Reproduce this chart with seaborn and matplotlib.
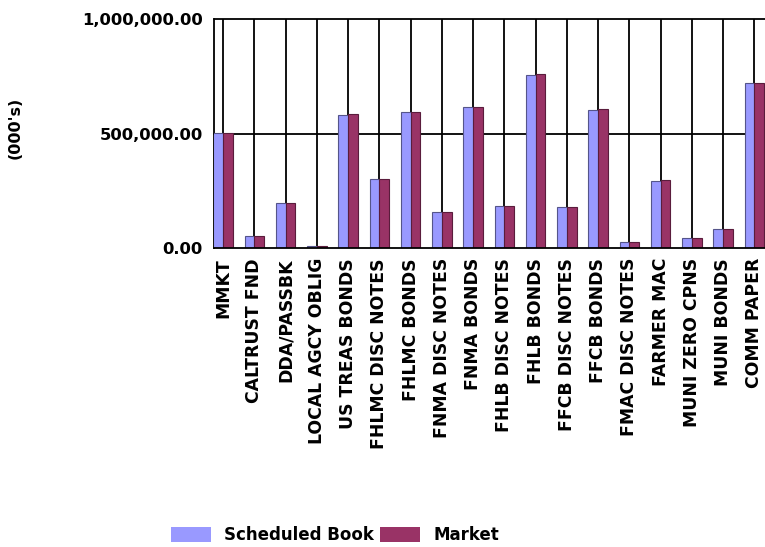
import matplotlib
matplotlib.use("Agg")
import matplotlib.pyplot as plt
import seaborn as sns
import pandas as pd
from matplotlib.patches import Patch

categories = [
    "MMKT", "CALTRUST FND", "DDA/PASSBK", "LOCAL AGCY OBLIG", "US TREAS BONDS",
    "FHLMC DISC NOTES", "FHLMC BONDS", "FNMA DISC NOTES", "FNMA BONDS",
    "FHLB DISC NOTES", "FHLB BONDS", "FFCB DISC NOTES", "FFCB BONDS",
    "FMAC DISC NOTES", "FARMER MAC", "MUNI ZERO CPNS", "MUNI BONDS", "COMM PAPER",
]
scheduled_book = [505000, 54000, 197000, 11000, 584000, 302000, 594000, 158000, 616000,
                  184000, 759000, 182000, 606000, 26000, 296000, 44000, 83000, 723000]
market = [506000, 54000, 197000, 11000, 585000, 302000, 595000, 158000, 617000,
          184000, 760000, 182000, 607000, 26000, 297000, 44000, 83000, 724000]
series_names = ["Scheduled Book", "Market"]
y_ticks = [0, 500000, 1000000]
y_tick_labels = ["0.00", "500,000.00", "1,000,000.00"]

df = pd.DataFrame({
    "category": categories * 2,
    "value": scheduled_book + market,
    "series": [series_names[0]] * len(categories) + [series_names[1]] * len(categories),
})

colors = {"Scheduled Book": "#9999ff", "Market": "#993366"}
edges = {"Scheduled Book": "#55558a", "Market": "#5a1c3c"}

sns.set_style("white")
plt.rcParams["font.family"] = ["DejaVu Sans"]
plt.rcParams["text.color"] = "black"
plt.rcParams["xtick.color"] = "black"
plt.rcParams["ytick.color"] = "black"

fig = plt.figure(figsize=(7.65, 5.47), dpi=100)
W, H = 765, 547
ax_left, ax_right = 214, 770
ax_top, ax_bottom = 19.5, 248.3
ax = fig.add_axes([ax_left / W, 1 - ax_bottom / H, (ax_right - ax_left) / W, (ax_bottom - ax_top) / H])

sns.barplot(data=df, x="category", y="value", hue="series", order=categories,
            hue_order=series_names, palette=colors, width=0.62, dodge=True,
            ax=ax, legend=False, zorder=3, errorbar=None, saturation=1)

for container, name in zip(ax.containers, series_names):
    for bar in container:
        bar.set_edgecolor(edges[name])
        bar.set_linewidth(0.8)

ax.set_xlim(-0.29, 17.5)
ax.set_ylim(0, 1000000)
ax.set_yticks(y_ticks)
ax.set_yticklabels(y_tick_labels, fontweight="bold", fontsize=11.8, color="black")
ax.set_xticks(range(len(categories)))
ax.set_xticklabels(categories, rotation=90, fontweight="bold", fontsize=12.4, color="black")
ax.set_xlabel("")
ax.set_ylabel("")

# black grid: vertical line at every category, horizontal at each y tick
for i in range(len(categories)):
    ax.axvline(i, color="black", lw=1.3, zorder=1)
for yv in y_ticks[1:]:
    ax.axhline(yv, color="black", lw=1.3, zorder=1, clip_on=False)

for side in ["top", "right"]:
    ax.spines[side].set_visible(False)
ax.spines["left"].set_color("black")
ax.spines["left"].set_linewidth(1.3)
ax.spines["bottom"].set_color("black")
ax.spines["bottom"].set_linewidth(1.3)
ax.spines["bottom"].set_zorder(4)
ax.tick_params(axis="both", which="major", direction="out", color="black", width=1.3)
ax.tick_params(axis="y", length=5, pad=3)
ax.tick_params(axis="x", length=4, pad=3)

fig.text(15 / W, 1 - 128 / H, "(000's)", rotation=90, fontweight="bold", fontsize=11.5,
         ha="center", va="center", color="black")

handles = [Patch(facecolor=colors[n], edgecolor="none", label=n) for n in series_names]
fig.legend(handles=handles, loc="center", bbox_to_anchor=(335 / W, 1 - 535 / H), ncol=2,
           frameon=False, prop={"weight": "bold", "size": 12}, handlelength=2.4,
           handleheight=1.0, columnspacing=0.4, handletextpad=0.8, labelcolor="black")

fig.savefig("out.png", dpi=100)
